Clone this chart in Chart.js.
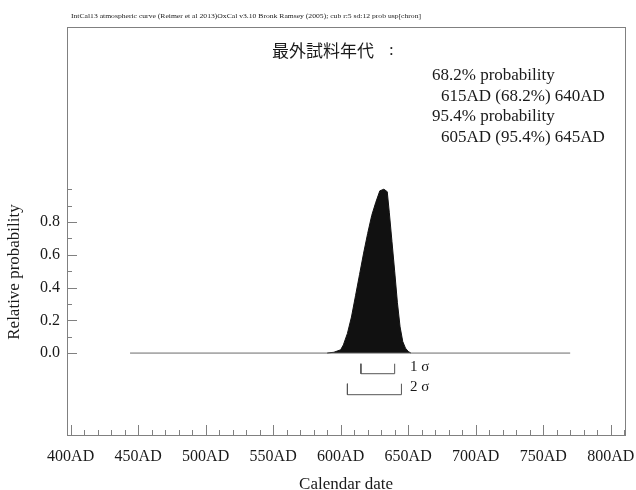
<!DOCTYPE html>
<html><head><meta charset="utf-8">
<script src="https://cdn.jsdelivr.net/npm/chart.js@4/dist/chart.umd.min.js"></script>
<style>html,body{margin:0;padding:0;background:#fff}#wrap{width:636px;height:490px}</style>
</head><body><div id="wrap"><canvas id="c" width="636" height="490"></canvas></div>
<script>
// ---- data ----
const years = [590, 595, 600, 602, 605, 608, 611, 614, 617, 620, 623, 626, 629, 632, 634.5, 636, 638, 640, 642, 644, 646, 648, 650, 652];
const probability = [0, 0.005, 0.02, 0.05, 0.12, 0.22, 0.35, 0.48, 0.61, 0.73, 0.84, 0.92, 0.99, 1.0, 0.985, 0.86, 0.68, 0.5, 0.31, 0.16, 0.07, 0.03, 0.01, 0];
const baselineRange = [444, 770];
const sigmaLabels = ['1 σ', '2 σ'];
const sigmaRanges = [[615, 640], [605, 645]];
const sigmaLevels = [[-0.065, -0.126], [-0.187, -0.254]];
const xTicks = [400, 450, 500, 550, 600, 650, 700, 750, 800];
const xMinorTicks = [410,420,430,440,460,470,480,490,510,520,530,540,560,570,580,590,610,620,630,640,660,670,680,690,710,720,730,740,760,770,780,790,810];
const yTicks = [0, 0.2, 0.4, 0.6, 0.8];
const yMinorTicks = [0.1, 0.3, 0.5, 0.7, 0.9, 1.0];
const headerText = 'IntCal13 atmospheric curve (Reimer et al 2013)OxCal v3.10 Bronk Ramsey (2005); cub r:5 sd:12 prob usp[chron]';
const titleText = '最外試料年代';
const rangeHeads = ['68.2% probability', '95.4% probability'];
const rangeTexts = ['615AD (68.2%) 640AD', '605AD (95.4%) 645AD'];
const xTitle = 'Calendar date';
const yTitle = 'Relative probability';

const SERIF = '"Liberation Serif", "Times New Roman", serif';
const TXT = '#1a1a1a';
const FRAME = '#808080';

const datasets = [
  { data: baselineRange.map(x => ({x, y: 0})), borderColor: '#6a6a6a', borderWidth: 1, pointRadius: 0, fill: false },
  { data: years.map((x, i) => ({x, y: probability[i]})), borderColor: '#111', backgroundColor: '#111', borderWidth: 1, pointRadius: 0, fill: 'origin', tension: 0 }
];
sigmaRanges.forEach((r, i) => {
  const [top, bot] = sigmaLevels[i];
  datasets.push({ data: [{x: r[0], y: top}, {x: r[0], y: bot}, {x: r[1], y: bot}, {x: r[1], y: top}],
    borderColor: '#555', borderWidth: 1, pointRadius: 0, fill: false, tension: 0 });
});

const decor = {
  id: 'decor',
  afterDraw(chart) {
    const ctx = chart.ctx, a = chart.chartArea, xs = chart.scales.x, ys = chart.scales.y;
    ctx.save();
    // frame
    ctx.strokeStyle = FRAME; ctx.lineWidth = 1;
    ctx.strokeRect(Math.round(a.left) + 0.5, Math.round(a.top) + 0.5, Math.round(a.right - a.left), Math.round(a.bottom - a.top));
    // ticks
    ctx.beginPath();
    xTicks.forEach(v => { const p = Math.round(xs.getPixelForValue(v)) + 0.5; ctx.moveTo(p, a.bottom); ctx.lineTo(p, a.bottom - 10); });
    xMinorTicks.forEach(v => { const p = Math.round(xs.getPixelForValue(v)) + 0.5; ctx.moveTo(p, a.bottom); ctx.lineTo(p, a.bottom - 5); });
    yTicks.forEach(v => { const p = Math.round(ys.getPixelForValue(v)) + 0.5; ctx.moveTo(a.left, p); ctx.lineTo(a.left + 10, p); });
    yMinorTicks.forEach(v => { const p = Math.round(ys.getPixelForValue(v)) + 0.5; ctx.moveTo(a.left, p); ctx.lineTo(a.left + 5, p); });
    ctx.stroke();
    ctx.fillStyle = TXT;
    // header
    ctx.font = '7px ' + SERIF;
    ctx.textBaseline = 'middle'; ctx.textAlign = 'left';
    const w = ctx.measureText(headerText).width;
    ctx.save(); ctx.translate(71, 16); ctx.scale(350 / w, 1); ctx.fillText(headerText, 0, 0); ctx.restore();
    // title
    ctx.font = '17px "Noto Sans CJK JP", sans-serif';
    ctx.fillText(titleText, 272, 51);
    ctx.font = '17px ' + SERIF;
    ctx.fillText(':', 389, 51);
    // ranges
    rangeHeads.forEach((t, i) => {
      ctx.fillText(t, 432, 76 + i * 41);
      ctx.fillText(rangeTexts[i], 441, 96.5 + i * 41);
    });
    // sigma labels
    const maxHi = Math.max(...sigmaRanges.map(r => r[1]));
    ctx.font = '15px ' + SERIF;
    sigmaLabels.forEach((t, i) => {
      const y = (ys.getPixelForValue(sigmaLevels[i][0]) + ys.getPixelForValue(sigmaLevels[i][1])) / 2 - 2;
      ctx.fillText(t, xs.getPixelForValue(maxHi) + 8.5, y);
    });
    // y title
    ctx.font = '17px ' + SERIF; ctx.textAlign = 'center';
    ctx.save(); ctx.translate(15, 272); ctx.rotate(-Math.PI / 2); ctx.fillText(yTitle, 0, 0); ctx.restore();
    ctx.restore();
  }
};

new Chart(document.getElementById('c'), {
  type: 'line',
  data: { datasets },
  options: {
    responsive: false, animation: false, devicePixelRatio: 1,
    layout: { padding: { top: 27, right: 11, left: 0, bottom: 0 } },
    plugins: { legend: { display: false }, tooltip: { enabled: false } },
    scales: {
      x: {
        type: 'linear', min: 397.3, max: 810.6,
        afterFit(s) { s.height = 55; s.paddingLeft = 0; s.paddingRight = 0; },
        afterBuildTicks(s) { s.ticks = xTicks.map(v => ({ value: v })); },
        grid: { display: false, drawTicks: false }, border: { display: false },
        ticks: { callback: v => v + 'AD', font: { family: SERIF, size: 16 }, color: TXT, padding: 12, maxRotation: 0, autoSkip: false },
        title: { display: true, text: xTitle, font: { family: SERIF, size: 17, lineHeight: 0.7 }, color: TXT, padding: 0 }
      },
      y: {
        type: 'linear', min: -0.5, max: 1.99,
        afterFit(s) { s.width = 67; s.paddingTop = 0; s.paddingBottom = 0; },
        afterBuildTicks(s) { s.ticks = yTicks.map(v => ({ value: v })); },
        grid: { display: false, drawTicks: false }, border: { display: false },
        ticks: { callback: v => v.toFixed(1), font: { family: SERIF, size: 16 }, color: TXT, padding: 7 }
      }
    }
  },
  plugins: [decor]
});
</script>
</body></html>
